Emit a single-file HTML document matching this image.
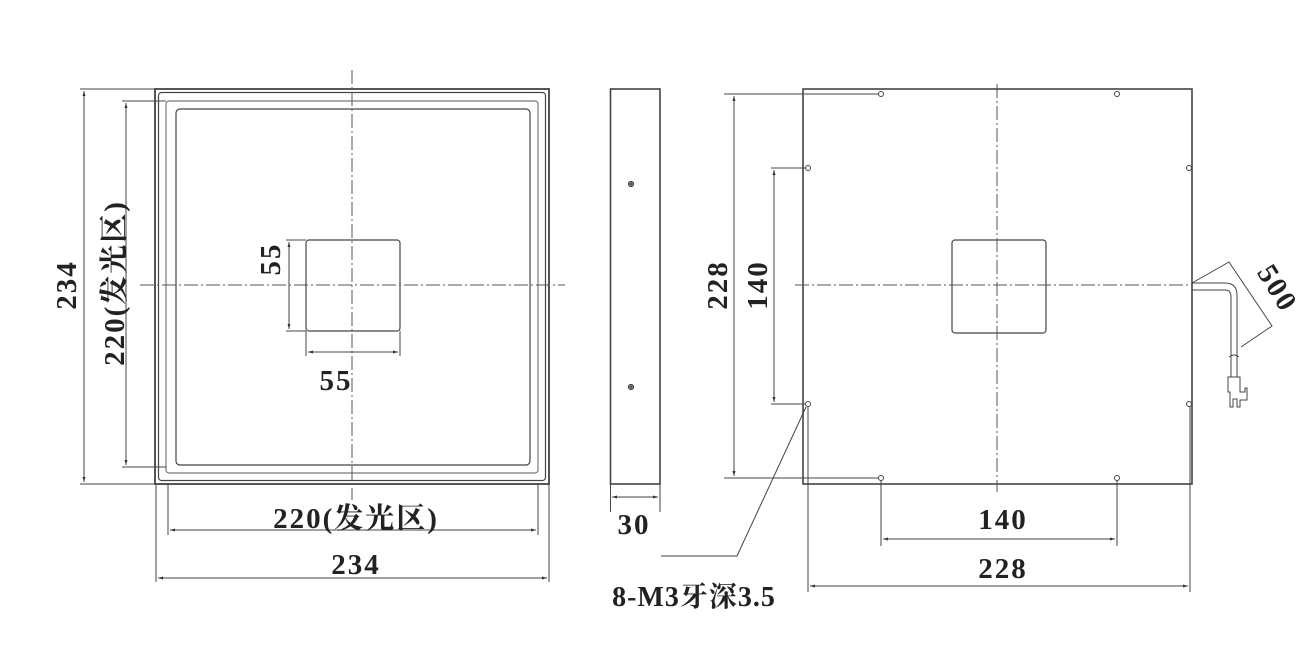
<!DOCTYPE html>
<html><head><meta charset="utf-8"><style>
html,body{margin:0;padding:0;background:#fff;width:1308px;height:655px;overflow:hidden}
svg{display:block}
text{font-family:"Liberation Serif","Noto Serif CJK SC","Noto Sans CJK SC",serif;font-weight:bold;fill:#222;font-size:29px;letter-spacing:2px}
</style></head><body>
<svg width="1308" height="655" viewBox="0 0 1308 655" xmlns="http://www.w3.org/2000/svg">
<defs>
<marker id="a" viewBox="0 0 10 10" refX="10" refY="5" markerWidth="7" markerHeight="5" orient="auto-start-reverse"><path d="M0,2 L10,5 L0,8z" fill="#333"/></marker>
</defs>
<g fill="none" stroke="#444" stroke-width="1.2">
<rect x="155" y="89" width="394" height="395" stroke-width="1.8"/>
<rect x="158.5" y="92.5" width="387" height="388" rx="3"/>
<rect x="166" y="101" width="372" height="372" rx="3" stroke="#777"/>
<rect x="176" y="109" width="354" height="356" rx="4"/>
<rect x="306" y="240" width="94" height="91" rx="3"/>
<path d="M352 70 V500" stroke="#555" stroke-width="1" stroke-dasharray="14 3 2 3"/>
<path d="M140 285 H565" stroke="#555" stroke-width="1" stroke-dasharray="14 3 2 3"/>
<path d="M80 89 H155 M80 484 H155" stroke-width="1"/>
<path d="M84 91 V482" marker-start="url(#a)" marker-end="url(#a)" stroke-width="1"/>
<path d="M122 101 H166 M122 467 H166" stroke-width="1"/>
<path d="M126 103 V465" marker-start="url(#a)" marker-end="url(#a)" stroke-width="1"/>
<path d="M286 240 H306 M286 331 H306" stroke-width="1"/>
<path d="M289 242 V329" marker-start="url(#a)" marker-end="url(#a)" stroke-width="1"/>
<path d="M306 331 V356 M400 331 V356" stroke-width="1"/>
<path d="M308 352 H398" marker-start="url(#a)" marker-end="url(#a)" stroke-width="1"/>
<path d="M168 484 V535 M538 484 V535" stroke-width="1"/>
<path d="M170 530 H536" marker-start="url(#a)" marker-end="url(#a)" stroke-width="1"/>
<path d="M156 484 V582 M549 484 V582" stroke-width="1"/>
<path d="M158 578 H547" marker-start="url(#a)" marker-end="url(#a)" stroke-width="1"/>
<rect x="610.5" y="89" width="49.5" height="395" stroke-width="1.6"/>
<circle cx="631" cy="184" r="2.5"/><circle cx="631" cy="184" r="1"/>
<circle cx="631" cy="387" r="2.5"/><circle cx="631" cy="387" r="1"/>
<path d="M610.5 484 V512 M660 484 V512" stroke-width="1"/>
<path d="M612 497 H658" marker-start="url(#a)" marker-end="url(#a)" stroke-width="1"/>
<rect x="803" y="89" width="389" height="395" stroke-width="1.6"/>
<rect x="952" y="240" width="94" height="93" rx="3"/>
<path d="M997 84 V492" stroke="#555" stroke-width="1" stroke-dasharray="14 3 2 3"/>
<path d="M795 285 H1192" stroke="#555" stroke-width="1" stroke-dasharray="14 3 2 3"/>
<g stroke-width="1">
<circle cx="881" cy="94" r="2.5"/><circle cx="1117" cy="94" r="2.5"/>
<circle cx="881" cy="478" r="2.5"/><circle cx="1117" cy="478" r="2.5"/>
<circle cx="808" cy="168" r="2.5"/><circle cx="808" cy="404" r="2.5"/>
<circle cx="1189" cy="168" r="2.5"/><circle cx="1189" cy="404" r="2.5"/>
</g>
<path d="M724 94 H879 M724 478 H879" stroke-width="1"/>
<path d="M734 96 V476" marker-start="url(#a)" marker-end="url(#a)" stroke-width="1"/>
<path d="M771 168 H806 M771 404 H806" stroke-width="1"/>
<path d="M774 170 V402" marker-start="url(#a)" marker-end="url(#a)" stroke-width="1"/>
<path d="M881 480 V546 M1117 480 V546" stroke-width="1"/>
<path d="M883 539 H1115" marker-start="url(#a)" marker-end="url(#a)" stroke-width="1"/>
<path d="M808 406 V592 M1190 406 V592" stroke-width="1"/>
<path d="M810 586 H1188" marker-start="url(#a)" marker-end="url(#a)" stroke-width="1"/>
<path d="M806 407 L737 556 H661" stroke-width="1"/>
<path d="M1192 283 H1225 Q1237 283 1237 295 V343 M1192 290 H1225 Q1231 290 1231 297 V343" stroke-width="1"/>
<path d="M1231 343 V377 M1237 343 V377 M1229 357 Q1234 353 1239 357" stroke-width="1"/>
<path d="M1228 377 H1240 V392 H1245 V388 H1247 V400 H1240 V407 H1237 V399 H1233 V407 H1230 V392 H1228 Z" stroke-width="1"/>
<path d="M1192 283 L1229 262 L1272 326 L1241 347" stroke-width="1"/>
</g>
<text x="66" y="285" text-anchor="middle" transform="rotate(-90 66 285)" dy="10">234</text>
<text x="114" y="283" text-anchor="middle" transform="rotate(-90 114 283)" dy="10">220(发光区)</text>
<text x="270" y="259" text-anchor="middle" transform="rotate(-90 270 259)" dy="10">55</text>
<text x="336" y="390" text-anchor="middle">55</text>
<text x="356" y="528" text-anchor="middle">220(发光区)</text>
<text x="356" y="574" text-anchor="middle">234</text>
<text x="634" y="534" text-anchor="middle">30</text>
<text x="717" y="285" text-anchor="middle" transform="rotate(-90 717 285)" dy="10">228</text>
<text x="757" y="285" text-anchor="middle" transform="rotate(-90 757 285)" dy="10">140</text>
<text x="1003" y="529" text-anchor="middle">140</text>
<text x="1003" y="578" text-anchor="middle">228</text>
<text x="1278" y="288" text-anchor="middle" transform="rotate(58 1278 288)" dy="10">500</text>
<text x="694" y="606" text-anchor="middle" style="font-size:28px;letter-spacing:1px">8-M3牙深3.5</text>
</svg>
</body></html>
